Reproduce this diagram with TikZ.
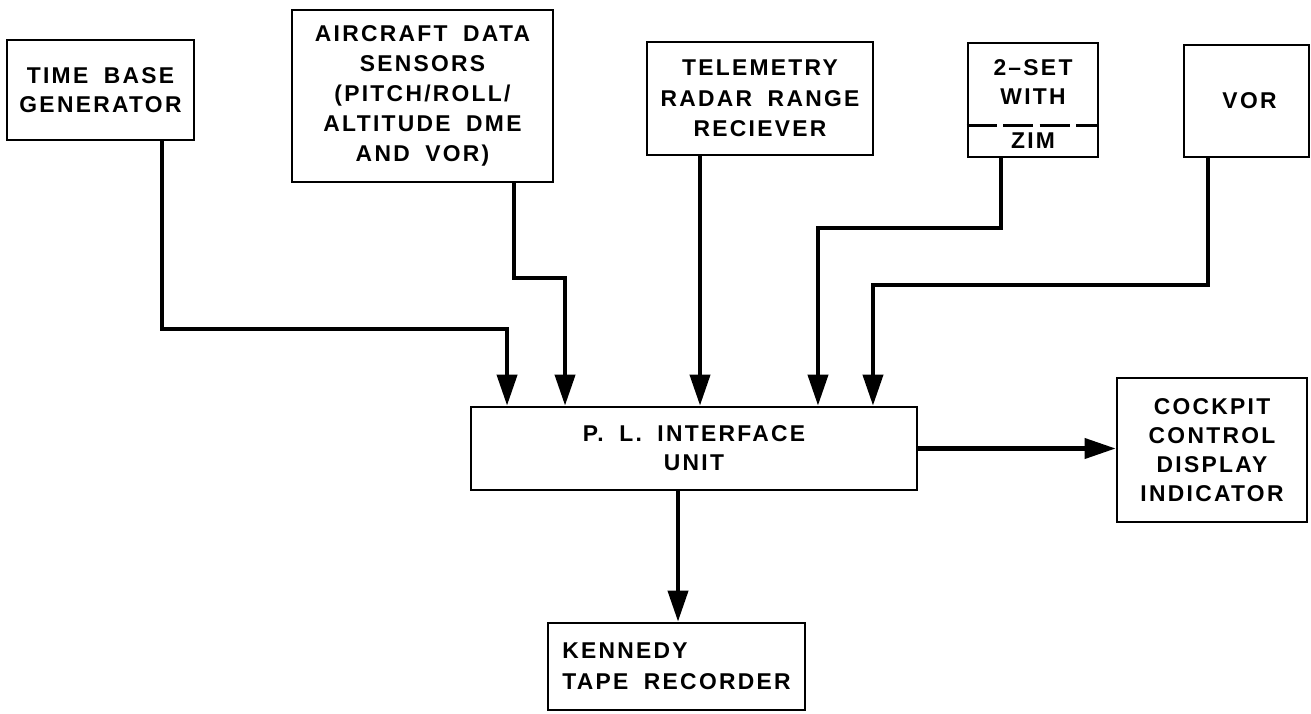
\documentclass[tikz,border=0pt]{standalone}
\usepackage{fontspec}
\setmainfont{Liberation Sans}[LetterSpace=10,WordSpace=1.8]
\usetikzlibrary{arrows.meta,positioning,calc}

\begin{document}
\begin{tikzpicture}[x=0.02cm,y=-0.02cm,
    box/.style={draw,line width=1.6pt,inner sep=0pt,align=center,
      font=\fontsize{13}{16.5}\selectfont\bfseries},
    boxtext/.style={inner sep=0pt,align=center,
      font=\fontsize{13}{16.5}\selectfont\bfseries},
    flow/.style={line width=2.3pt,-{Triangle[length=0.62cm,width=0.4cm]}}]
  \useasboundingbox (0,0) rectangle (1311,713);

  \node[box,minimum width=3.74cm,minimum height=2cm] (timebase) at (100.5,90)
    {TIME BASE\\GENERATOR};
  \node[box,minimum width=5.22cm,minimum height=3.44cm,
        font=\fontsize{13}{17}\selectfont\bfseries] (sensors) at (422.5,96)
    {AIRCRAFT DATA\\SENSORS\\(PITCH/ROLL/\\ALTITUDE DME\\AND VOR)};
  \node[box,minimum width=4.52cm,minimum height=2.26cm,
        font=\fontsize{13}{17.5}\selectfont\bfseries] (telemetry) at (760,98.5)
    {TELEMETRY\\RADAR RANGE\\RECIEVER};
  \node[box,minimum width=2.6cm,minimum height=2.28cm] (zset) at (1033,100) {};
  \node[boxtext] (zsettop) at (1033,82.5) {2--SET\\WITH};
  \node[boxtext] (zim) at (1033,141) {ZIM};
  \draw[line width=1.6pt,dash pattern=on 0.6cm off 0.13cm]
    ([yshift=0.66cm]zset.south west) -- ([yshift=0.66cm]zset.south east);
  \node[box,minimum width=2.5cm,minimum height=2.24cm] (vor) at (1246.5,101)
    {\hspace{0.12cm}VOR};

  \node[box,minimum width=8.92cm,minimum height=1.66cm] (interface) at (694,448.5)
    {P.\ L.\ INTERFACE\\UNIT};
  \node[box,minimum width=3.8cm,minimum height=2.88cm] (cockpit) at (1212,450)
    {COCKPIT\\CONTROL\\DISPLAY\\INDICATOR};
  \node[box,minimum width=5.14cm,minimum height=1.74cm,align=left,
        font=\fontsize{13}{17.5}\selectfont\bfseries] (recorder) at (676.5,666.5)
    {KENNEDY\\TAPE RECORDER};

  \draw[flow] ([xshift=1.23cm]timebase.south)
    |- ($([xshift=-3.74cm]interface.north)+(0,1.54cm)$)
    -- ([xshift=-3.74cm]interface.north);
  \draw[flow] ([xshift=1.83cm]sensors.south)
    |- ($([xshift=-2.58cm]interface.north)+(0,2.56cm)$)
    -- ([xshift=-2.58cm]interface.north);
  \draw[flow] ([xshift=-1.2cm]telemetry.south)
    -- ([xshift=-1.2cm]telemetry.south |- interface.north);
  \draw[flow] ([xshift=-0.64cm]zset.south)
    |- ($([xshift=2.48cm]interface.north)+(0,3.56cm)$)
    -- ([xshift=2.48cm]interface.north);
  \draw[flow] ([xshift=-0.78cm]vor.south)
    |- ($([xshift=3.58cm]interface.north)+(0,2.42cm)$)
    -- ([xshift=3.58cm]interface.north);
  \draw[flow] (interface.east) -- (interface.east -| cockpit.west);
  \draw[flow] ([xshift=-0.32cm]interface.south)
    -- ([xshift=-0.32cm]interface.south |- recorder.north);
\end{tikzpicture}
\end{document}
